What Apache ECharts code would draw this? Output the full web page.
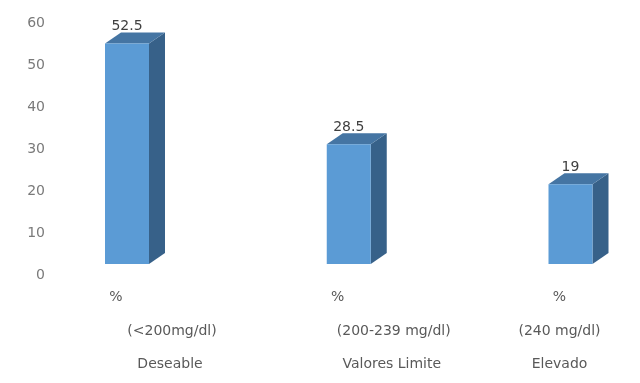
<!DOCTYPE html>
<html>
<head>
<meta charset="utf-8">
<script src="https://cdn.jsdelivr.net/npm/echarts@6/dist/echarts.min.js"></script>
<style>
html,body{margin:0;padding:0;background:#fff;}
#chart{width:640px;height:383px;}
</style>
</head>
<body>
<div id="chart"></div>
<script>
const unitLabels = ['%', '%', '%'];
const rangeLabels = ['(<200mg/dl)', '(200-239 mg/dl)', '(240 mg/dl)'];
const levelLabels = ['Deseable', 'Valores Limite', 'Elevado'];
const values = [52.5, 28.5, 19];
const yMin = 0, yMax = 60, yStep = 10;

const FONT = 'DejaVu Sans';
const BAR_W = 44, DX = 16, DY = 11;

const chart = echarts.init(document.getElementById('chart'), null, {renderer: 'canvas'});

const rich = {
  l: {padding: [0, 22, 0, 0], fontFamily: FONT, fontSize: 14, color: '#595959'},
  r: {padding: [0, 0, 0, 90], fontFamily: FONT, fontSize: 14, color: '#595959'},
  r3: {padding: [0, 0, 0, 86], fontFamily: FONT, fontSize: 14, color: '#595959'}
};

function xAxisLine(margin, fmt) {
  return {
    type: 'category',
    gridIndex: 0,
    data: levelLabels,
    boundaryGap: false,
    position: 'bottom',
    axisLine: {show: false},
    axisTick: {show: false},
    splitLine: {show: false},
    axisLabel: {
      interval: 0,
      margin: margin,
      verticalAlign: 'middle',
      fontFamily: FONT,
      fontSize: 14,
      color: '#595959',
      rich: rich,
      formatter: fmt
    }
  };
}

const option = {
  animation: false,
  backgroundColor: '#ffffff',
  grid: {left: 127, right: 69.5, top: 12, bottom: 119},
  xAxis: [
    xAxisLine(33, (v, i) => '{l|' + unitLabels[i] + '}'),
    xAxisLine(67.5, (v, i) => (i < 2 ? '{r|' : '{l|') + rangeLabels[i] + '}'),
    xAxisLine(100, (v, i) => (i < 2 ? '{r3|' : '{l|') + levelLabels[i] + '}')
  ],
  yAxis: {
    type: 'value',
    min: yMin, max: yMax, interval: yStep,
    axisLine: {show: false},
    axisTick: {show: false},
    splitLine: {show: false},
    axisLabel: {
      margin: 82,
      fontFamily: FONT,
      fontSize: 14,
      color: '#7a7a7a',
      verticalAlign: 'middle',
      formatter: v => '{y|' + v + '}',
      rich: {
        y: {padding: [22, 0, 0, 0], fontFamily: FONT, fontSize: 14, color: '#7a7a7a'}
      }
    }
  },
  series: [{
    type: 'custom',
    xAxisIndex: 0,
    data: values.map((v, i) => [i, v]),
    renderItem: function (params, api) {
      const base = api.coord([api.value(0), 0]);
      const top = api.coord([api.value(0), api.value(1)]);
      const cx = base[0], by = base[1], ty = top[1];
      const l = cx - BAR_W / 2, r = cx + BAR_W / 2;
      return {
        type: 'group',
        children: [
          {type: 'polygon', shape: {points: [[r, ty], [r + DX, ty - DY], [r + DX, by - DY], [r, by]]},
           style: {fill: '#376189'}},
          {type: 'polygon', shape: {points: [[l, ty], [r, ty], [r + DX, ty - DY], [l + DX, ty - DY]]},
           style: {fill: '#4575a3'}},
          {type: 'rect', shape: {x: l, y: ty, width: BAR_W, height: by - ty},
           style: {fill: '#5b9bd5'}},
          {type: 'text', x: cx, y: ty - DY - 6,
           style: {text: String(api.value(1)), fill: '#404040', font: '14px "' + FONT + '"',
                   textAlign: 'center', textVerticalAlign: 'middle'}}
        ]
      };
    }
  }]
};
chart.setOption(option);
</script>
</body>
</html>
